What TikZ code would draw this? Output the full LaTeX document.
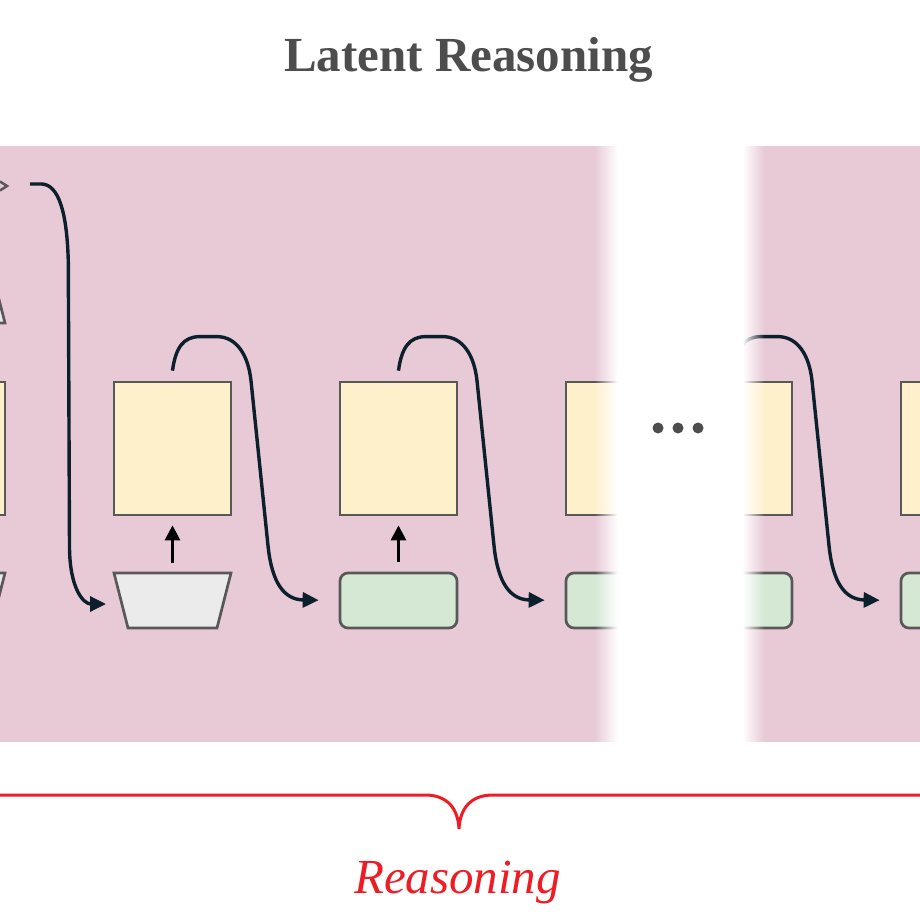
\documentclass[tikz,border=0pt]{standalone}
\usepackage{fontspec}
\setmainfont{Liberation Serif}
\usetikzlibrary{arrows.meta,calc}
\definecolor{bgpink}{RGB}{232,202,214}
\definecolor{yfill}{RGB}{255,240,204}
\definecolor{gfill}{RGB}{213,232,212}
\definecolor{tfill}{RGB}{235,235,235}
\definecolor{edge}{RGB}{88,88,88}
\definecolor{conncol}{RGB}{12,31,44}
\definecolor{titlegray}{RGB}{77,77,77}
\definecolor{bracered}{RGB}{238,28,37}
\tikzset{
  ybox/.style={draw=edge, line width=2.7pt, fill=yfill, minimum width=117pt, minimum height=133pt, inner sep=0pt},
  gbox/.style={draw=edge, line width=2.7pt, fill=gfill, rounded corners=8pt, minimum width=117pt, minimum height=55pt, inner sep=0pt},
  trap/.style={draw=edge, line width=2.7pt, fill=tfill, line join=miter},
  conn/.style={draw=conncol, line width=3.4pt, -{Triangle[length=16pt,width=15pt]}},
  uparr/.style={draw=black, line width=3pt, -{Triangle[length=15pt,width=15pt]}, shorten <=10pt, shorten >=9pt},
  bracestyle/.style={draw=bracered, line width=3pt},
}
\begin{document}
\begin{tikzpicture}[x=1pt,y=-1pt]
\useasboundingbox (0,0) rectangle (920,920);
\begin{scope}
\clip (0,0) rectangle (920,920);
% background panel
\fill[bgpink] (0,146) rectangle (920,742);
% boxes
\node[ybox] (b0) at (-53.5,448.5) {};
\node[ybox] (b1) at (172.5,448.5) {};
\node[ybox] (b2) at (398.5,448.5) {};
\node[ybox] (b3) at (624.5,448.5) {};
\node[ybox] (b4) at (733.5,448.5) {};
\node[ybox] (b5) at (959.5,448.5) {};
\node[gbox] (g2) at (398.5,600.5) {};
\node[gbox] (g3) at (624.5,600.5) {};
\node[gbox] (g4) at (733.5,600.5) {};
\node[gbox] (g5) at (959.5,600.5) {};
% trapezoids
\draw[trap] (-112,573) -- (5,573) -- (-9,628) -- (-98,628) -- cycle;
\draw[trap] (-98,268) -- (-9,268) -- (5,323) -- (-112,323) -- cycle;
\draw[trap] (114,573) -- (231,573) -- (217,628) -- (128,628) -- cycle;
\coordinate (t1) at (172.5,573);
% small chevron at top left
\draw[edge, line width=2.5pt, line join=miter] (0,181.5) -- (7,186) -- (0,190.5);
% up arrows
\draw[uparr] (t1) -- (b1.south);
\draw[uparr] (g2.north) -- (b2.south);
\draw[uparr] (g3.north) -- (b3.south);
\draw[uparr] (g4.north) -- (b4.south);
% long input arrow
\coordinate (s0) at (30,184);
\coordinate (e0) at (106,604);
\draw[conn] (s0) -- (42,184) .. controls (58,185) and (67,210) .. (68.3,262) -- (69.5,548) .. controls (70,590) and (84,604) .. (e0);
% hook arrows
\foreach \bx/\g in {b1/g2,b2/g3,b3/g4,b4/g5}{
  \path (\bx.north) coordinate (hs);
  \draw[conn, shorten >=20pt] ($(hs)+(0,-10)$)
    .. controls ($(hs)+(3,-33)$) and ($(hs)+(11,-44)$) .. ($(hs)+(27,-44)$)
    -- ($(hs)+(46,-44)$)
    .. controls ($(hs)+(63.5,-43)$) and ($(hs)+(75.5,-27)$) .. ($(hs)+(78.5,0)$)
    -- ($(hs)+(95.5,165)$)
    .. controls ($(hs)+(99.4,203)$) and ($(hs)+(112,219)$) .. (\g.west);
}
% white gap with soft edges
\foreach \i in {0,...,22}{
  \fill[white, opacity={(\i+0.5)/23}] (595+\i,146) rectangle (596+\i,742);
}
\fill[white] (618,146) rectangle (743,742);
\foreach \i in {0,...,21}{
  \fill[white, opacity={1-(\i+0.5)/22}] (743+\i,146) rectangle (744+\i,742);
}
% ellipsis dots
\foreach \xx [count=\k] in {658,678,698}{
  \node[circle, fill=titlegray, inner sep=0pt, minimum size=11pt] (d\k) at (\xx,428) {};
}
% brace
\draw[bracestyle] (-5,795) -- (425,795) .. controls (447,795) and (458,808) .. (459,829)
  .. controls (460,808) and (471,795) .. (493,795) -- (925,795);
\end{scope}
% texts
\node[anchor=base, text=titlegray, font=\bfseries\fontsize{49}{49}\selectfont, inner sep=0pt] (title) at (468.5,72) {Latent Reasoning};
\node[anchor=base, text=bracered, font=\itshape\fontsize{49}{49}\selectfont, inner sep=0pt] (label) at (457.5,893) {Reasoning};
\end{tikzpicture}
\end{document}
